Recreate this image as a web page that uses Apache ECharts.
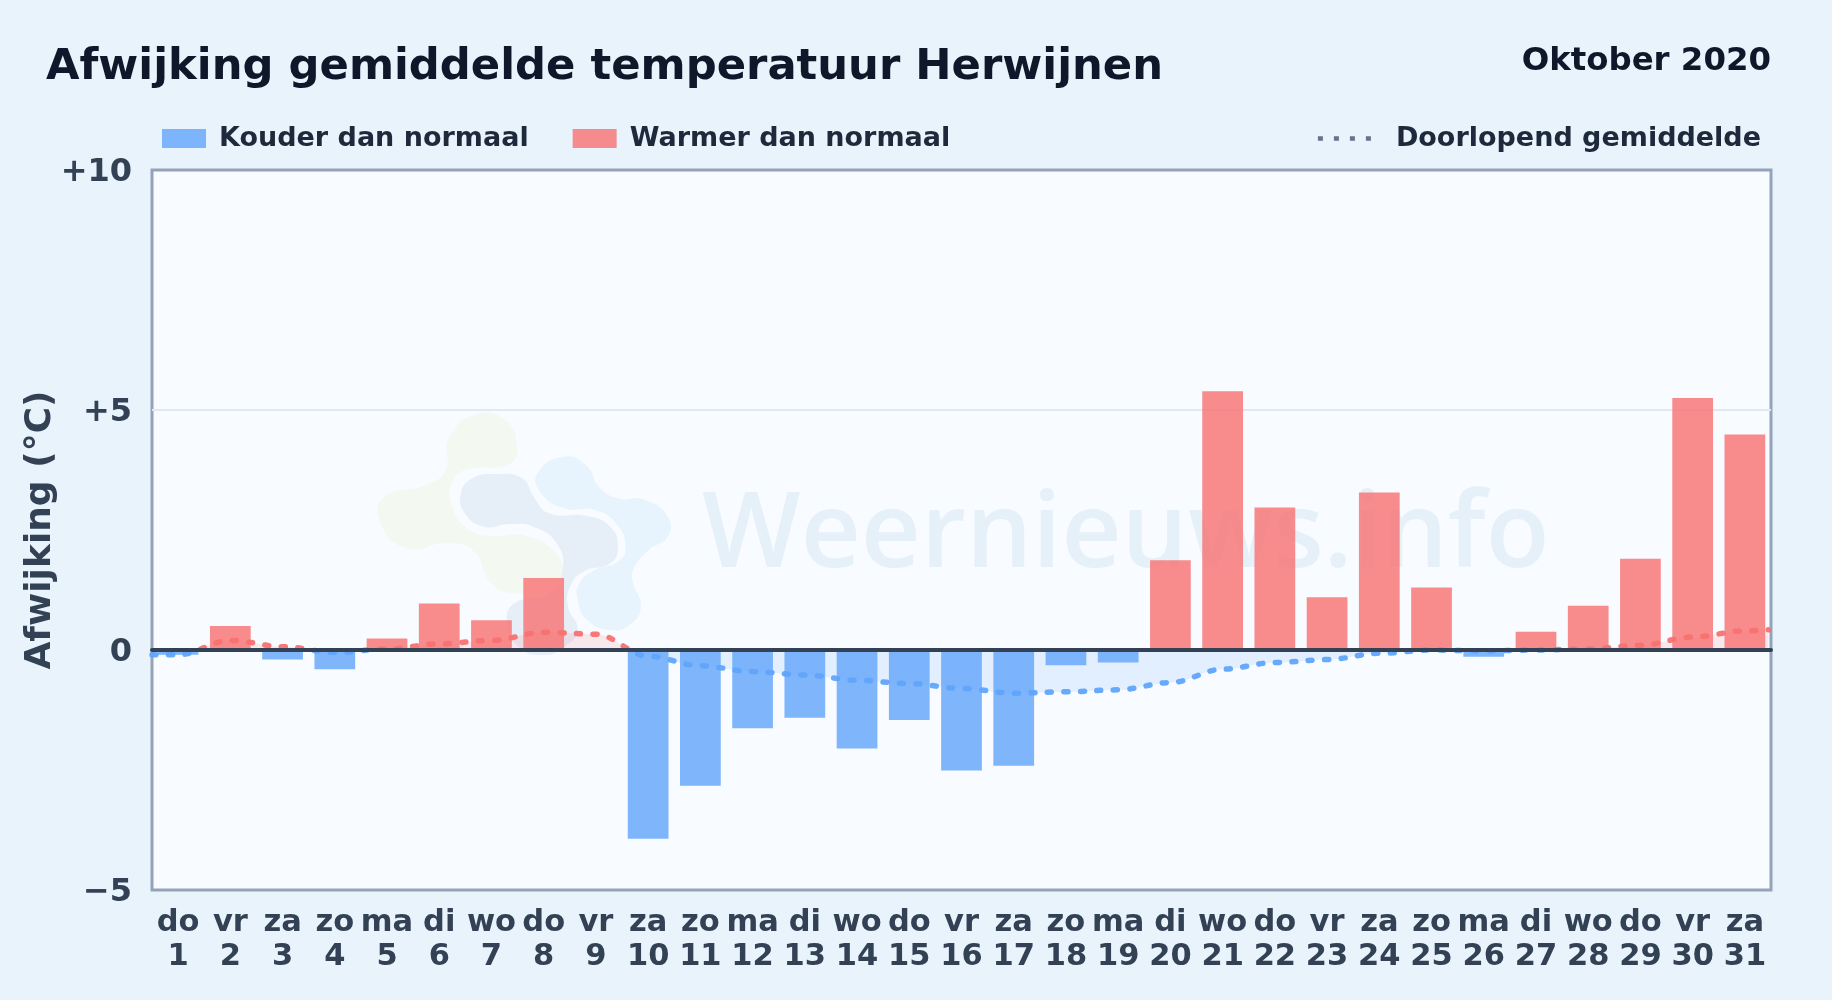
<!DOCTYPE html>
<html>
<head>
<meta charset="utf-8">
<script src="https://cdn.jsdelivr.net/npm/echarts@6/dist/echarts.min.js"></script>
<style>html,body{margin:0;padding:0;background:#e8f3fc}#c{width:1832px;height:1000px}</style>
</head>
<body>
<div id="c"></div>
<script>
const weekdagen = ['do','vr','za','zo','ma','di','wo','do','vr','za','zo','ma','di','wo','do','vr','za','zo','ma','di','wo','do','vr','za','zo','ma','di','wo','do','vr','za'];
const dagen = [1,2,3,4,5,6,7,8,9,10,11,12,13,14,15,16,17,18,19,20,21,22,23,24,25,26,27,28,29,30,31];
const afwijking = [-0.1,0.5,-0.2,-0.4,0.24,0.97,0.62,1.5,0,-3.93,-2.83,-1.63,-1.41,-2.05,-1.46,-2.51,-2.41,-0.32,-0.26,1.87,5.39,2.97,1.1,3.28,1.3,-0.14,0.38,0.92,1.9,5.25,4.49];
const gemiddelde = [-0.1,-0.1,0.2,0.07,-0.05,0.02,0.13,0.2,0.37,0.33,-0.13,-0.33,-0.45,-0.52,-0.63,-0.7,-0.8,-0.9,-0.87,-0.83,-0.68,-0.4,-0.26,-0.2,-0.07,0,-0.02,0,0.02,0.1,0.27,0.4,0.42];
const gemiddeldeX = [0.5,...dagen,31.45];
const yLabels = {'10':'+10','5':'+5','0':'0','-5':'\u22125'};

const FONT = '"DejaVu Sans"';
const zx = v => 350 + v / 2.613, zy = v => 380 + v / 3;
const blob = (pts, fill) => ({type:'polygon', silent:true,
  shape:{points:pts.map(p=>[zx(p[0]),zy(p[1])]), smooth:0.5}, style:{fill}});
const groen = [[340,100],[410,125],[435,190],[420,250],[300,270],[265,310],[265,370],[300,440],[370,468],[450,465],[530,510],[555,570],[530,620],[430,640],[370,610],[320,510],[250,490],[150,505],[80,430],[90,350],[200,315],[250,270],[260,170]];
const midden = [[380,282],[450,295],[480,350],[520,400],[620,408],[680,440],[700,500],[680,550],[610,575],[575,620],[570,680],[595,750],[560,800],[505,825],[440,800],[410,730],[430,670],[520,640],[555,570],[540,490],[480,440],[420,432],[350,440],[300,400],[290,340],[320,295]];
const rechts = [[560,230],[620,260],[650,320],[700,355],[770,360],[830,410],[830,470],[780,510],[740,570],[740,610],[760,680],[730,735],[680,750],[620,720],[595,660],[600,610],[640,570],[700,545],[720,500],[695,430],[640,390],[560,385],[500,340],[490,280]];

const nulOffset = 480 / 720;
const splitKleur = (rood, blauw) => ({type:'linear',x:0,y:170,x2:0,y2:890,global:true,colorStops:[
  {offset:0,color:rood},{offset:nulOffset,color:rood},{offset:nulOffset,color:blauw},{offset:1,color:blauw}]});

const chart = echarts.init(document.getElementById('c'), null, {renderer:'canvas'});
chart.setOption({
  animation:false,
  backgroundColor:'#e8f3fc',
  textStyle:{fontFamily:FONT},
  title:[
    {text:'Afwijking gemiddelde temperatuur Herwijnen', left:46, top:46, padding:0,
     textStyle:{fontFamily:FONT,fontWeight:'bold',fontSize:43.3,color:'#0f172a'}},
    {text:'Oktober 2020', right:61, top:46, padding:0,
     textStyle:{fontFamily:FONT,fontWeight:'bold',fontSize:32.4,color:'#0f172a'}}
  ],
  legend:[
    {left:162, top:125, padding:0, itemWidth:44, itemHeight:19, itemGap:44, icon:'rect',
     data:['Kouder dan normaal','Warmer dan normaal'],
     textStyle:{fontFamily:FONT,fontWeight:'bold',fontSize:27,color:'#1e293b',padding:[0,0,0,8]}},
    {right:71, top:125, padding:0, itemWidth:56, itemHeight:19,
     data:['Doorlopend gemiddelde'],
     itemStyle:{opacity:0},
     lineStyle:{color:'#64748b',width:4.5,type:[5,11],cap:'butt',opacity:1},
     textStyle:{fontFamily:FONT,fontWeight:'bold',fontSize:27,color:'#1e293b',padding:[0,0,0,17]}}
  ],
  grid:{left:152,right:61,top:170,bottom:110,show:true,backgroundColor:'#f8fbff',borderColor:'#94a3b8',borderWidth:3,containLabel:false,z:0},
  graphic:{z:1,elements:[
    blob(groen,'#f3f8f0'),
    blob(rechts,'#e7f3fd'),
    blob(midden,'#e6eff8'),
    {type:'text', silent:true, left:702, top:485,
     style:{text:'Weernieuws.info', font:'600 104.4px "Open Sans"', fill:'#e6f0f9'}}
  ]},
  xAxis:[
    {type:'category', data:dagen.map((d,i)=>weekdagen[i]+'\n'+d), position:'bottom',
     axisLine:{show:false,onZero:false}, axisTick:{show:false}, splitLine:{show:false},
     axisLabel:{interval:0,margin:16,lineHeight:34,fontFamily:FONT,fontWeight:'bold',fontSize:30.5,color:'#334155'}},
    {type:'value', min:0.5, max:31.5, position:'bottom', z:10,
     axisLine:{show:true,onZero:true,lineStyle:{color:'#334155',width:4}},
     axisTick:{show:false}, axisLabel:{show:false}, splitLine:{show:false}}
  ],
  yAxis:{type:'value',min:-5,max:10,interval:5,
    name:'Afwijking (\u00b0C)',nameLocation:'middle',nameGap:93,nameMoveOverlap:false,nameRotate:90,
    nameTextStyle:{fontFamily:FONT,fontWeight:'bold',fontSize:36,color:'#334155'},
    axisLine:{show:false},axisTick:{show:false},
    splitLine:{show:true,showMinLine:false,showMaxLine:false,lineStyle:{color:'#e2e8f0',width:2}},
    axisLabel:{margin:20,formatter:v=>'{a|'+yLabels[v]+'}',
      rich:{a:{fontFamily:FONT,fontWeight:'bold',fontSize:32,color:'#334155',lineHeight:42,height:37,verticalAlign:'bottom'}}}
  },
  series:[
    {name:'Kouder dan normaal',type:'bar',barWidth:'78%',barGap:'-100%',z:3,
     itemStyle:{color:'rgba(96,165,250,0.8)'},data:afwijking.map(v=>v<0?v:null)},
    {name:'Warmer dan normaal',type:'bar',barWidth:'78%',barGap:'-100%',z:3,
     itemStyle:{color:'rgba(248,113,113,0.8)'},data:afwijking.map(v=>v>0?v:null)},
    {name:'Doorlopend gemiddelde',type:'line',xAxisIndex:1,z:4,showSymbol:false,symbol:'none',
     smooth:0.35,smoothMonotone:'x',
     lineStyle:{width:5.5,type:[4,12.5],cap:'round',opacity:0.95,color:splitKleur('#f87171','#60a5fa')},
     areaStyle:{opacity:1,color:splitKleur('rgba(248,113,113,0.14)','rgba(96,165,250,0.14)')},
     data:gemiddeldeX.map((x,i)=>[x,gemiddelde[i]])}
  ]
});
</script>
</body>
</html>
